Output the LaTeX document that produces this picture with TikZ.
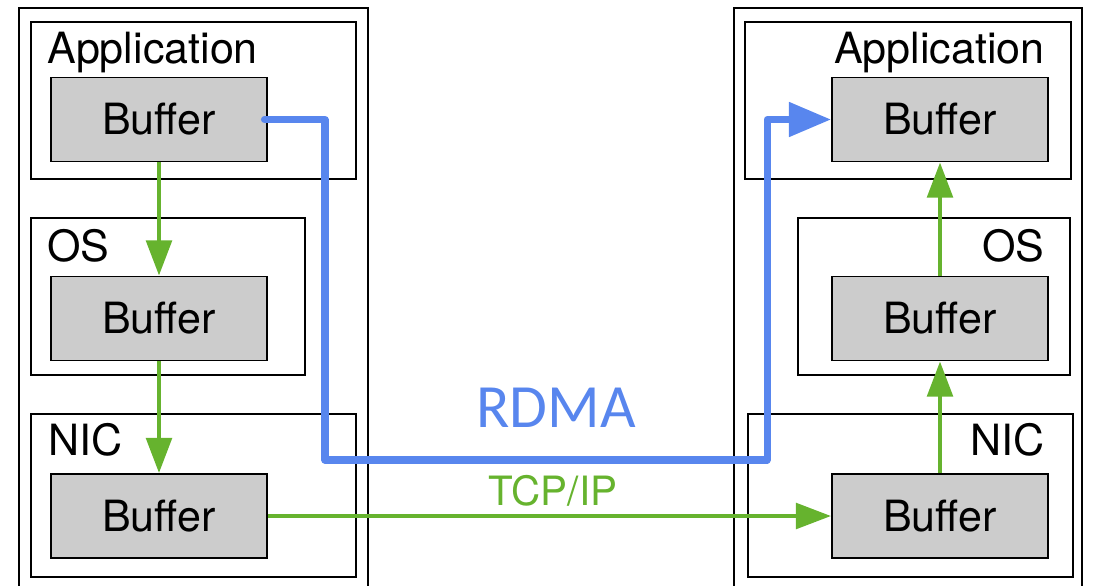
\documentclass[tikz,border=0pt]{standalone}
\usepackage{fontspec}
\setmainfont{TeX Gyre Heros}
\newfontfamily\calibri{Carlito}
\usetikzlibrary{arrows.meta}
\definecolor{rgreen}{RGB}{102,179,46}
\definecolor{rblue}{RGB}{88,134,238}
\definecolor{bufgray}{RGB}{204,204,204}
\begin{document}
\begin{tikzpicture}[x=0.02cm,y=-0.02cm,
  container/.style={draw=black,line width=1.1pt,inner sep=0pt,anchor=north west},
  bufbox/.style={draw=black,line width=1.1pt,fill=bufgray,minimum width=216*0.02cm,minimum height=84*0.02cm,inner sep=0pt,font=\fontsize{24.5}{28}\selectfont},
  lbl/.style={inner sep=0pt,font=\fontsize{24.5}{28}\selectfont},
  greenarrow/.style={draw=rgreen,line width=2.4pt,-{Triangle[length=20pt,width=14.5pt]}},
  bluearrow/.style={draw=rblue,line width=4pt,line cap=round,line join=round,-{Triangle[length=24pt,width=19pt]}},
  outerline/.style={draw=black,line width=1.1pt}
]
\useasboundingbox (0,0) rectangle (1094,585);
% outer frames
\draw[outerline] (19,600) -- (19,8) -- (368,8) -- (368,600);
\draw[outerline] (734,600) -- (734,8) -- (1082,8) -- (1082,600);
% left containers
\node[container,minimum width=325*0.02cm,minimum height=157*0.02cm] (lapp) at (30,21) {};
\node[container,minimum width=274*0.02cm,minimum height=157*0.02cm] (los) at (30,217) {};
\node[container,minimum width=325*0.02cm,minimum height=163*0.02cm] (lnic) at (30,413) {};
% right containers
\node[container,minimum width=326*0.02cm,minimum height=157*0.02cm] (rapp) at (744,21) {};
\node[container,minimum width=272*0.02cm,minimum height=157*0.02cm] (ros) at (797,217) {};
\node[container,minimum width=325*0.02cm,minimum height=163*0.02cm] (rnic) at (747,413) {};
% labels
\node[lbl,anchor=base west] (lappl) at (47,63) {Application};
\node[lbl,anchor=base west] (losl) at (47,261) {OS};
\node[lbl,anchor=base west] (lnicl) at (48,455) {NIC};
\node[lbl,anchor=base east] (rappl) at (1045,63) {Application};
\node[lbl,anchor=base east] (rosl) at (1045,261) {OS};
\node[lbl,anchor=base east] (rnicl) at (1045,455) {NIC};
% buffers
\node[bufbox] (lb1) at (159,119.5) {Buffer};
\node[bufbox] (lb2) at (159,318.5) {Buffer};
\node[bufbox] (lb3) at (159,516) {Buffer};
\node[bufbox] (rb1) at (940,119.5) {Buffer};
\node[bufbox] (rb2) at (940,318.5) {Buffer};
\node[bufbox] (rb3) at (940,516) {Buffer};
% green (TCP/IP) path
\draw[greenarrow] (lb1.south) -- (lb2.north);
\draw[greenarrow] (lb2.south) -- (lb3.north);
\draw[greenarrow] (lb3.east) -- (rb3.west);
\draw[greenarrow] (rb3.north) -- (rb2.south);
\draw[greenarrow] (rb2.north) -- (rb1.south);
% blue (RDMA) path
\coordinate (c1) at (325,119.5);
\coordinate (c2) at (325,460);
\coordinate (c3) at (767,460);
\coordinate (c4) at (767,119.5);
\draw[bluearrow] ([xshift=-2pt]lb1.east) -- (c1) -- (c2) -- (c3) -- (c4) -- (rb1.west);
% protocol labels
\node[inner sep=0pt,anchor=base,text=rblue,font=\calibri\fontsize{35}{40}\selectfont] (rdma) at (556,427) {RDMA};
\node[inner sep=0pt,anchor=base,text=rgreen,font=\fontsize{23}{27}\selectfont] (tcp) at (553,505) {TCP/IP};
\end{tikzpicture}
\end{document}
